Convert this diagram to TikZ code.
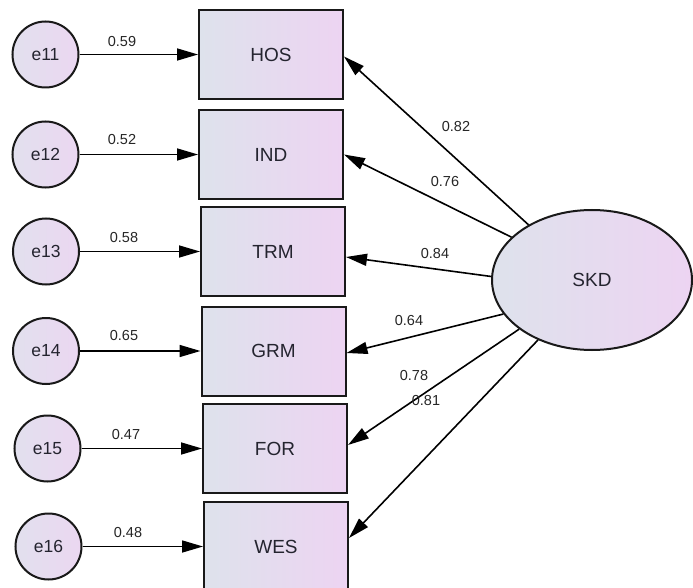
\documentclass[tikz,border=0pt]{standalone}
\usepackage{fontspec}
\setmainfont{Liberation Sans}
\usetikzlibrary{arrows.meta,shapes.geometric}
\definecolor{shadeL}{HTML}{DEE2EC}
\definecolor{shadeR}{HTML}{EDD4F2}
\definecolor{errL}{HTML}{E2E0EE}
\definecolor{errR}{HTML}{EBD7F1}
\definecolor{inkc}{HTML}{24242F}
\begin{document}
\begin{tikzpicture}[x=1pt,y=-1pt,
  obs/.style={draw=black!90, line width=2pt, left color=shadeL, right color=shadeR,
    minimum width=144pt, minimum height=89pt, inner sep=0pt,
    font=\fontsize{19}{19}\selectfont, text=inkc},
  err/.style={circle, draw=black!90, line width=2pt, left color=errL, right color=errR,
    minimum size=66pt, inner sep=0pt, font=\fontsize{17.5}{17.5}\selectfont, text=inkc},
  lat/.style={ellipse, draw=black!90, line width=2pt, left color=shadeL, right color=shadeR,
    minimum width=200pt, minimum height=140pt, inner sep=0pt,
    font=\fontsize{19}{19}\selectfont, text=inkc},
  link/.style={-{Triangle[length=21pt,width=12pt]}, line width=1.6pt, black},
  coef/.style={font=\fontsize{14.5}{14.5}\selectfont, text=black!85, inner sep=0pt}
]
\clip (0,0) rectangle (693,588);
\fill[white] (0,0) rectangle (693,588);

% observed indicators
\node[obs] (HOS) at (271,54.5) {HOS};
\node[obs] (IND) at (271,154.5) {IND};
\node[obs] (TRM) at (273,251.5) {TRM};
\node[obs] (GRM) at (273.5,351) {GRM};
\node[obs] (FOR) at (275,448.5) {FOR};
\node[obs] (WES) at (276,546.5) {WES};

% error terms
\node[err] (e11) at (45.5,54.5) {e11};
\node[err] (e12) at (45.5,154.5) {e12};
\node[err] (e13) at (46,251.5) {e13};
\node[err] (e14) at (46,351) {e14};
\node[err] (e15) at (47.5,448.5) {e15};
\node[err] (e16) at (48.5,546.5) {e16};

% latent factor
\node[lat] (SKD) at (592,280) {SKD};

% error paths
\draw[link] (e11) -- (e11 -| HOS.west);
\draw[link] (e12) -- (e12 -| IND.west);
\draw[link] (e13) -- (e13 -| TRM.west);
\draw[link] (e14) -- (e14 -| GRM.west);
\draw[link] (e15) -- (e15 -| FOR.west);
\draw[link] (e16) -- (e16 -| WES.west);

\node[coef] (c11) at (122,42) {0.59};
\node[coef] (c12) at (122,140) {0.52};
\node[coef] (c13) at (124,238) {0.58};
\node[coef] (c14) at (124,336) {0.65};
\node[coef] (c15) at (126,435) {0.47};
\node[coef] (c16) at (128,533) {0.48};

% factor loadings
\draw[link] (SKD.139) -- ([yshift=-2pt]HOS.east);
\draw[link] (SKD.152) -- (IND.east);
\draw[link] (SKD.178) -- ([yshift=-5.5pt]TRM.east);
\draw[link] (SKD.201.5) -- ([yshift=-2pt]GRM.east);
\draw[link] (SKD.214.8) -- ([yshift=3.5pt]FOR.east);
\draw[link] (SKD.228) -- ([yshift=8.5pt]WES.east);

\node[coef] (l1) at (456,127) {0.82};
\node[coef] (l2) at (445,182) {0.76};
\node[coef] (l3) at (435,254) {0.84};
\node[coef] (l4) at (409,321) {0.64};
\node[coef] (l5) at (414,376) {0.78};
\node[coef] (l6) at (426,401) {0.81};
\end{tikzpicture}
\end{document}
